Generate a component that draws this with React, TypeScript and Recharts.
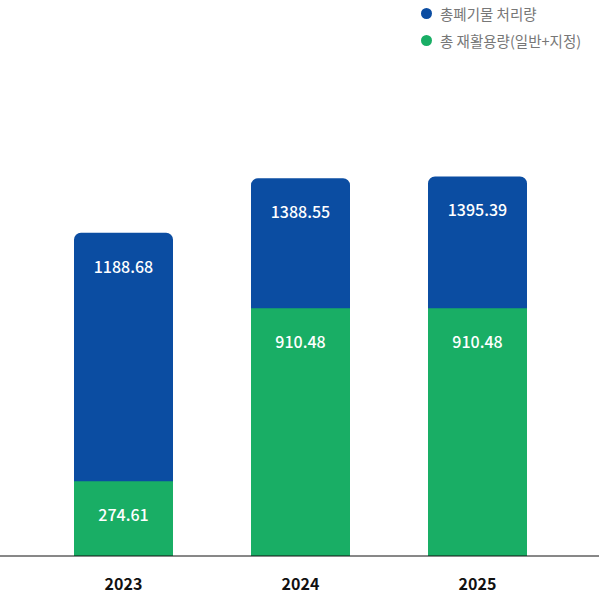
import { BarChart, Bar, XAxis, YAxis, Legend, LabelList } from 'recharts'

const years = ['2023', '2024', '2025']
const totalWaste = [1188.68, 1388.55, 1395.39]
const totalRecycled = [274.61, 910.48, 910.48]

const BLUE = '#0b4da2'
const GREEN = '#19ae65'
const FONT = '"Noto Sans CJK KR", "Noto Sans", sans-serif'

const data = years.map((year, i) => ({
  year,
  waste: totalWaste[i],
  recycled: totalRecycled[i],
}))

const legendItems = [
  { name: '총폐기물 처리량', color: BLUE },
  { name: '총 재활용량(일반+지정)', color: GREEN },
]

function renderLegend() {
  return (
    <div style={{ fontFamily: FONT, fontSize: 14.5, color: '#777' }}>
      {legendItems.map((it) => (
        <div key={it.name} style={{ display: 'flex', alignItems: 'center', height: 27 }}>
          <span
            style={{
              display: 'inline-block',
              width: 11,
              height: 11,
              borderRadius: '50%',
              background: it.color,
              marginRight: 8,
            }}
          />
          {it.name}
        </div>
      ))}
    </div>
  )
}

// value label placed a fixed distance below the top of the bar
function BarValue(props: any) {
  const { x, y, width, value } = props
  return (
    <text
      x={x + width / 2}
      y={y + 33}
      fill="#fff"
      textAnchor="middle"
      dominantBaseline="central"
      fontSize={16}
      fontWeight={500}
      fontFamily={FONT}
    >
      {Number(value).toFixed(2)}
    </text>
  )
}

const pad = { left: 35, right: 33 }

export default function App() {
  return (
    <div style={{ position: 'absolute', left: 0, top: 0 }}>
      <BarChart
        width={599}
        height={594}
        data={data}
        margin={{ top: 12, right: 0, left: 0, bottom: 0 }}
        barSize={99}
      >
        <XAxis
          xAxisId="back"
          dataKey="year"
          height={38}
          padding={pad}
          axisLine={{ stroke: '#111' }}
          tickLine={false}
          tickMargin={17}
          tick={{ fontSize: 16, fontWeight: 700, fill: '#111', fontFamily: FONT }}
        />
        <XAxis xAxisId="front" dataKey="year" hide padding={pad} />
        <YAxis hide domain={[0, 2000]} />
        <Legend
          layout="horizontal"
          verticalAlign="middle"
          content={renderLegend}
          wrapperStyle={{ top: 0, left: 421, width: 178 }}
        />
        <Bar xAxisId="back" dataKey="waste" fill={BLUE} radius={[7, 7, 0, 0]} isAnimationActive={false}>
          <LabelList dataKey="waste" content={BarValue} />
        </Bar>
        <Bar xAxisId="front" dataKey="recycled" fill={GREEN} isAnimationActive={false}>
          <LabelList dataKey="recycled" content={BarValue} />
        </Bar>
      </BarChart>
    </div>
  )
}
